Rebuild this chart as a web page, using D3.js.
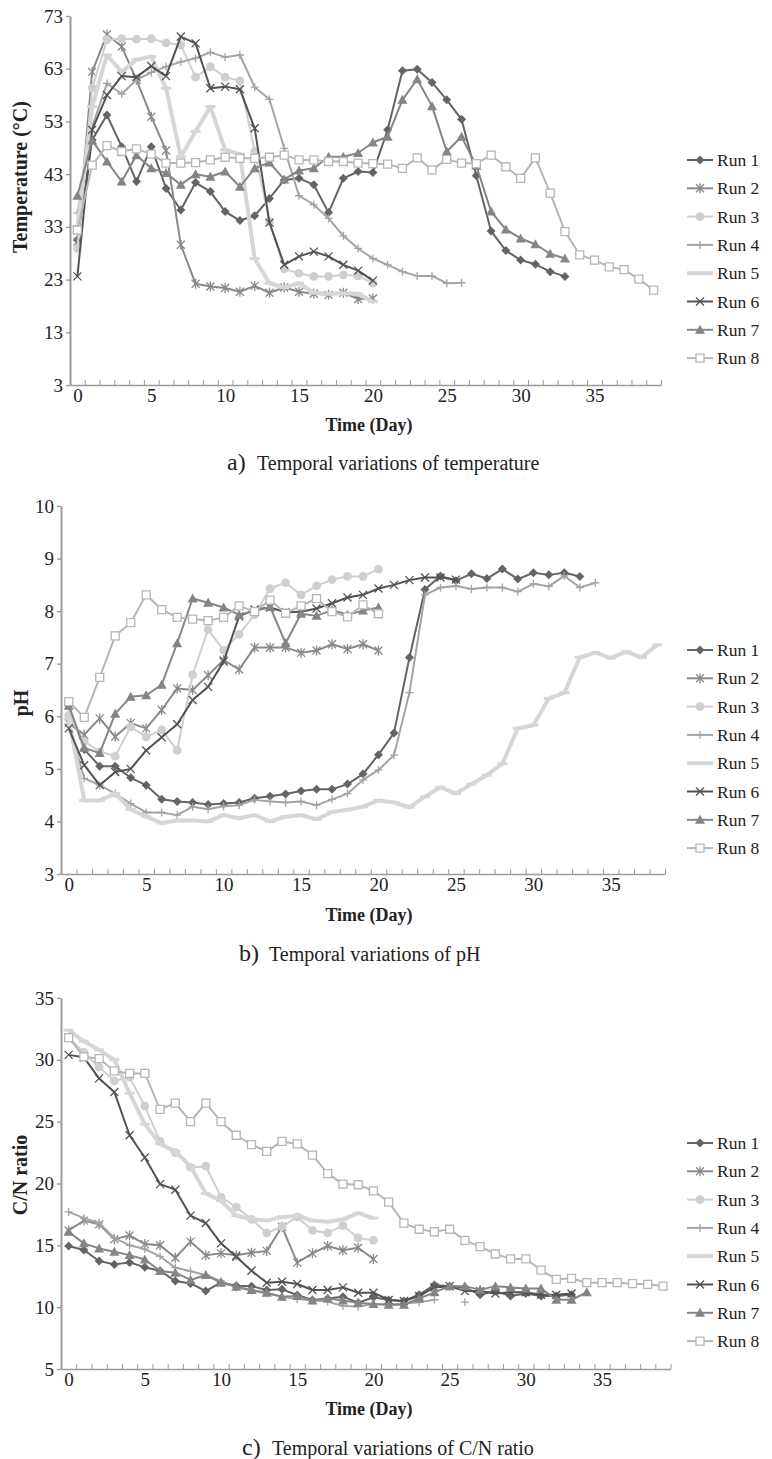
<!DOCTYPE html>
<html>
<head>
<meta charset="utf-8">
<script src="https://cdn.jsdelivr.net/npm/d3@7"></script>
<style>
body { margin: 0; background: #fff; }
text { font-family: "Liberation Serif", "Times New Roman", serif; fill: #222; }
</style>
</head>
<body>
<svg width="772" height="1459"></svg>
<script>
// runs and their look
var runNames = ["Run 1", "Run 2", "Run 3", "Run 4", "Run 5", "Run 6", "Run 7", "Run 8"];
var runColors = ["#646464", "#8a8a8a", "#cfcfcf", "#a4a4a4", "#d6d6d6", "#525252", "#858585", "#b6b6b6"];
var runWidths = [2, 2, 2, 2, 4, 2, 2, 2];
var runMarkers = ["diamond", "asterisk", "circle", "plus", "dash", "cross", "triangle", "square"];

// a) temperature (deg C), index = day
var tempRun1 = [30.5, 49.5, 54.2, 48.2, 41.6, 48.2, 40.3, 36.2, 41.4, 39.7, 35.9, 34.2, 35.1, 38.4, 41.9, 42.2, 41.0, 35.7, 42.2, 43.5, 43.3, 51.4, 62.6, 62.9, 60.4, 57.1, 53.4, 42.7, 32.2, 28.5, 26.7, 25.9, 24.5, 23.6];
var tempRun2 = [30.2, 62.4, 69.5, 67.2, 60.9, 53.9, 47.5, 29.6, 22.2, 21.7, 21.4, 20.7, 21.8, 20.5, 21.5, 20.7, 20.3, 20.1, 20.5, 19.3, 19.4];
var tempRun3 = [28.9, 59.3, 68.5, 68.7, 68.6, 68.7, 67.9, 67.5, 61.4, 63.4, 61.4, 60.7, 47.3, 34.0, 25.0, 24.2, 23.6, 23.6, 23.9, 23.7, 22.3];
var tempRun4 = [35.6, 52.0, 60.2, 58.2, 60.9, 62.3, 63.4, 64.3, 65.0, 66.1, 65.2, 65.6, 59.5, 57.2, 47.9, 38.9, 37.2, 34.6, 31.3, 28.9, 27.0, 25.8, 24.5, 23.7, 23.7, 22.3, 22.4];
var tempRun5 = [33.0, 55.8, 65.6, 62.4, 64.7, 65.3, 59.3, 46.3, 51.1, 55.8, 47.6, 46.8, 27.0, 22.3, 21.5, 22.3, 20.5, 20.3, 20.4, 20.3, 18.8];
var tempRun6 = [23.6, 51.4, 58.0, 61.6, 61.4, 63.5, 61.6, 69.1, 67.8, 59.3, 59.6, 59.1, 51.7, 33.8, 25.8, 27.4, 28.3, 27.4, 25.8, 24.7, 22.8];
var tempRun7 = [38.9, 49.4, 45.4, 41.6, 46.6, 44.1, 43.2, 41.0, 43.0, 42.5, 43.5, 40.6, 44.1, 45.2, 42.0, 43.7, 44.1, 46.3, 46.3, 47.0, 49.0, 50.1, 57.1, 61.0, 55.9, 47.3, 50.1, 44.6, 35.9, 32.5, 30.8, 29.7, 27.9, 27.0];
var tempRun8 = [32.4, 44.7, 48.4, 47.3, 47.8, 46.8, 45.1, 45.1, 45.2, 45.7, 46.2, 46.0, 46.0, 46.2, 46.6, 45.7, 45.7, 45.4, 45.4, 45.1, 45.0, 44.9, 44.1, 46.1, 43.8, 45.8, 45.1, 45.0, 46.6, 44.4, 42.2, 46.1, 39.4, 32.1, 27.7, 26.7, 25.4, 24.9, 23.1, 21.0];

// b) pH
var phRun1 = [6.2, 5.37, 5.05, 5.05, 4.83, 4.69, 4.42, 4.38, 4.36, 4.32, 4.34, 4.36, 4.44, 4.48, 4.52, 4.58, 4.61, 4.61, 4.71, 4.9, 5.27, 5.68, 7.12, 8.41, 8.67, 8.58, 8.71, 8.62, 8.8, 8.61, 8.73, 8.69, 8.73, 8.66];
var phRun2 = [5.87, 5.65, 5.96, 5.61, 5.87, 5.77, 6.12, 6.53, 6.5, 6.78, 7.07, 6.89, 7.31, 7.31, 7.31, 7.21, 7.25, 7.37, 7.28, 7.37, 7.25];
var phRun3 = [6.02, 5.52, 5.33, 5.24, 5.8, 5.61, 5.74, 5.35, 6.79, 7.65, 7.26, 7.56, 7.93, 8.43, 8.54, 8.31, 8.48, 8.6, 8.66, 8.66, 8.8];
var phRun4 = [5.85, 4.82, 4.69, 4.53, 4.34, 4.17, 4.17, 4.12, 4.28, 4.23, 4.29, 4.31, 4.41, 4.38, 4.36, 4.38, 4.31, 4.42, 4.53, 4.79, 4.98, 5.26, 6.45, 8.31, 8.45, 8.48, 8.42, 8.45, 8.45, 8.37, 8.52, 8.47, 8.67, 8.45, 8.54];
var phRun5 = [5.95, 4.4, 4.4, 4.53, 4.23, 4.09, 3.97, 4.02, 4.02, 4.0, 4.12, 4.06, 4.12, 4.0, 4.09, 4.12, 4.04, 4.18, 4.22, 4.28, 4.4, 4.36, 4.27, 4.47, 4.65, 4.53, 4.71, 4.88, 5.1, 5.77, 5.83, 6.34, 6.45, 7.12, 7.21, 7.11, 7.23, 7.12, 7.36];
var phRun6 = [5.77, 5.07, 4.69, 4.94, 5.0, 5.35, 5.6, 5.85, 6.31, 6.56, 7.04, 7.9, 8.03, 8.07, 7.98, 7.99, 8.05, 8.15, 8.26, 8.31, 8.43, 8.5, 8.59, 8.64, 8.64, 8.6];
var phRun7 = [6.2, 5.4, 5.3, 6.05, 6.37, 6.4, 6.6, 7.39, 8.24, 8.16, 8.07, 7.93, 8.0, 8.08, 7.39, 7.95, 7.91, 8.02, 7.93, 8.01, 8.07];
var phRun8 = [6.28, 5.98, 6.74, 7.53, 7.78, 8.31, 8.03, 7.88, 7.85, 7.82, 7.88, 8.1, 7.99, 8.21, 7.96, 8.1, 8.24, 7.99, 7.89, 8.12, 7.95];

// c) C/N ratio
var cnRun1 = [14.94, 14.62, 13.73, 13.46, 13.62, 13.22, 12.95, 12.11, 11.92, 11.3, 12.0, 11.73, 11.7, 11.39, 11.44, 10.98, 10.58, 10.71, 10.85, 10.36, 10.8, 10.58, 10.5, 11.0, 11.8, 11.7, 11.6, 11.0, 11.3, 10.9, 11.1, 10.9, 10.9, 11.0];
var cnRun2 = [16.2, 17.0, 16.7, 15.5, 15.8, 15.1, 15.0, 14.0, 15.3, 14.2, 14.35, 14.2, 14.4, 14.55, 16.5, 13.6, 14.35, 14.95, 14.6, 14.8, 13.9];
var cnRun3 = [31.8, 30.6, 29.4, 28.3, 28.6, 26.25, 23.4, 22.5, 21.3, 21.4, 18.9, 18.1, 17.1, 16.0, 16.5, 17.3, 16.2, 16.0, 16.6, 15.6, 15.4];
var cnRun4 = [17.7, 17.2, 16.8, 15.6, 15.0, 14.7, 14.1, 13.2, 12.9, 12.6, 12.1, 11.6, 11.35, 11.1, 10.85, 10.65, 10.55, 10.45, 10.1, 10.05, 10.25, 10.2, 10.3, 10.4, 10.6, null, 10.4];
var cnRun5 = [32.4, 31.5, 30.8, 30.0, 27.3, 24.8, 23.2, 22.6, 21.4, 19.2, 18.6, 17.4, 17.1, 17.0, 17.3, 17.4, 17.0, 16.9, 17.1, 17.6, 17.2];
var cnRun6 = [30.4, 30.2, 28.5, 27.4, 23.9, 22.1, 19.95, 19.5, 17.4, 16.8, 15.16, 14.08, 12.95, 11.98, 12.06, 11.87, 11.39, 11.39, 11.6, 11.17, 11.17, 10.58, 10.5, 10.9, 11.6, 11.7, 11.3, 11.3, 11.1, 11.2, 11.2, 11.0, 11.0, 11.1];
var cnRun7 = [16.1, 15.16, 14.75, 14.48, 14.21, 13.86, 12.92, 12.79, 12.2, 12.6, 11.98, 11.66, 11.39, 11.17, 10.85, 10.9, 10.53, 10.71, 10.53, 10.36, 10.26, 10.2, 10.2, 10.7, 11.2, 11.7, 11.7, 11.4, 11.7, 11.6, 11.5, 11.5, 10.6, 10.6, 11.2];
var cnRun8 = [31.8, 30.25, 30.1, 29.1, 28.9, 28.9, 26.0, 26.5, 25.0, 26.5, 25.0, 23.9, 23.15, 22.6, 23.4, 23.2, 22.3, 20.8, 19.95, 19.9, 19.4, 18.5, 16.8, 16.3, 16.1, 16.3, 15.4, 14.9, 14.3, 13.9, 13.9, 13.0, 12.25, 12.33, 11.98, 11.98, 11.98, 11.9, 11.85, 11.7];

var xLabelDays = [0, 5, 10, 15, 20, 25, 30, 35];

var svg = d3.select("svg");

// marker shapes
function markerPath(type) {
    switch (type) {
        case "diamond": return "M0,-4.5L4.5,0L0,4.5L-4.5,0Z";
        case "triangle": return "M0,-5L5,4L-5,4Z";
        case "square": return "M-4,-4H4V4H-4Z";
        case "cross": return "M-4,-4L4,4M-4,4L4,-4";
        case "asterisk": return "M-4,-4L4,4M-4,4L4,-4M0,-5V5";
        case "plus": return "M-4,0H4M0,-4V4";
        case "dash": return "M-5,0H5";
        case "circle": return d3.symbol(d3.symbolCircle, 60)();
    }
}
function addMarker(g, type, color, px, py) {
    var p = g.append("path")
            .attr("d", markerPath(type))
            .attr("transform", "translate(" + px + "," + py + ")");
    if (type == "diamond" || type == "triangle" || type == "circle") {
        p.attr("fill", color).attr("stroke", "none");
    } else if (type == "square") {
        p.attr("fill", "#fff").attr("stroke", color).attr("stroke-width", 1.3);
    } else if (type == "dash") {
        p.attr("fill", "none").attr("stroke", color).attr("stroke-width", 3);
    } else {
        p.attr("fill", "none").attr("stroke", color).attr("stroke-width", 1.3);
    }
}

function drawPanel(cfg) {
    var xScale = d3.scaleLinear()
            .domain([-0.5, cfg.nDays - 0.5])
            .range([cfg.left, cfg.right]);
    var yScale = d3.scaleLinear()
            .domain([cfg.yMin, cfg.yMax])
            .range([cfg.bottom, cfg.top]);

    // axes
    var yTicks = d3.range(cfg.yMin, cfg.yMax + 0.001, cfg.yStep);
    var gY = svg.append("g")
            .attr("transform", "translate(" + cfg.left + ",0)")
            .call(d3.axisLeft(yScale).tickValues(yTicks).tickFormat(d3.format("d"))
                    .tickSize(4).tickPadding(3).tickSizeOuter(0));
    gY.select(".domain").attr("stroke", "#9a9a9a").attr("stroke-width", 2);
    gY.selectAll(".tick line").attr("stroke", "#9a9a9a").attr("stroke-width", 1.3);
    gY.selectAll("text").attr("font-size", 19).attr("font-family", "Liberation Serif").attr("fill", "#222");

    var bounds = d3.range(0, cfg.nDays).map(function (d) { return d + 0.5; });
    var gX = svg.append("g")
            .attr("transform", "translate(0," + cfg.bottom + ")")
            .call(d3.axisBottom(xScale).tickValues(bounds).tickSize(-5).tickSizeOuter(0).tickFormat(""));
    gX.select(".domain").attr("stroke", "#9a9a9a").attr("stroke-width", 1.6);
    gX.selectAll(".tick line").attr("stroke", "#9a9a9a").attr("stroke-width", 1);

    var gXL = svg.append("g")
            .attr("transform", "translate(0," + cfg.bottom + ")")
            .call(d3.axisBottom(xScale).tickValues(xLabelDays).tickSize(0).tickPadding(4));
    gXL.select(".domain").remove();
    gXL.selectAll("text").attr("font-size", 19).attr("font-family", "Liberation Serif").attr("fill", "#222");

    // series
    var plot = svg.append("g");
    cfg.series.forEach(function (vals, i) {
        var line = d3.line()
                .defined(function (v) { return v != null; })
                .x(function (v, k) { return xScale(k); })
                .y(function (v) { return yScale(v); });
        plot.append("path")
                .attr("d", line(vals))
                .attr("fill", "none")
                .attr("stroke", runColors[i])
                .attr("stroke-width", runWidths[i])
                .attr("stroke-linejoin", "round");
        var mg = plot.append("g");
        vals.forEach(function (v, k) {
            if (v == null) return;
            addMarker(mg, runMarkers[i], runColors[i], xScale(k), yScale(v));
        });
    });

    // legend
    var lg = svg.append("g");
    runNames.forEach(function (name, i) {
        var ly = cfg.legendTop + i * 28.3;
        lg.append("line")
                .attr("x1", 687).attr("x2", 713)
                .attr("y1", ly).attr("y2", ly)
                .attr("stroke", runColors[i])
                .attr("stroke-width", runWidths[i]);
        if (runMarkers[i] != "dash") addMarker(lg, runMarkers[i], runColors[i], 700, ly);
        lg.append("text")
                .attr("x", 717).attr("y", ly)
                .attr("dy", "0.35em")
                .attr("font-size", 17.5)
                .text(name);
    });

    // titles
    svg.append("text")
            .attr("transform", "translate(" + cfg.yLabelX + "," + cfg.yLabelY + ") rotate(-90)")
            .attr("text-anchor", "middle")
            .attr("font-size", 20)
            .attr("font-weight", "bold")
            .text(cfg.yLabel);
    svg.append("text")
            .attr("x", 369).attr("y", cfg.xTitleY)
            .attr("text-anchor", "middle")
            .attr("font-size", 18)
            .attr("font-weight", "bold")
            .text("Time (Day)");
    svg.append("text")
            .attr("x", cfg.capX).attr("y", cfg.capY)
            .attr("font-size", 24)
            .text(cfg.capLetter);
    svg.append("text")
            .attr("x", cfg.capX + 30).attr("y", cfg.capY)
            .attr("font-size", 20)
            .text(cfg.caption);
}

drawPanel({
    top: 16, bottom: 385, left: 70, right: 661, nDays: 40,
    yMin: 3, yMax: 73, yStep: 10,
    series: [tempRun1, tempRun2, tempRun3, tempRun4, tempRun5, tempRun6, tempRun7, tempRun8],
    legendTop: 160,
    yLabel: "Temperature (°C)", yLabelX: 27, yLabelY: 177,
    xTitleY: 431,
    capLetter: "a)", caption: "Temporal variations of temperature", capX: 227, capY: 470
});
drawPanel({
    top: 506, bottom: 874, left: 61, right: 665, nDays: 39,
    yMin: 3, yMax: 10, yStep: 1,
    series: [phRun1, phRun2, phRun3, phRun4, phRun5, phRun6, phRun7, phRun8],
    legendTop: 650,
    yLabel: "pH", yLabelX: 28, yLabelY: 703,
    xTitleY: 921,
    capLetter: "b)", caption: "Temporal variations of pH", capX: 239, capY: 961
});
drawPanel({
    top: 998, bottom: 1369, left: 61, right: 670.6, nDays: 40,
    yMin: 5, yMax: 35, yStep: 5,
    series: [cnRun1, cnRun2, cnRun3, cnRun4, cnRun5, cnRun6, cnRun7, cnRun8],
    legendTop: 1143,
    yLabel: "C/N ratio", yLabelX: 27, yLabelY: 1175,
    xTitleY: 1415,
    capLetter: "c)", caption: "Temporal variations of C/N ratio", capX: 242, capY: 1455
});
</script>
</body>
</html>
